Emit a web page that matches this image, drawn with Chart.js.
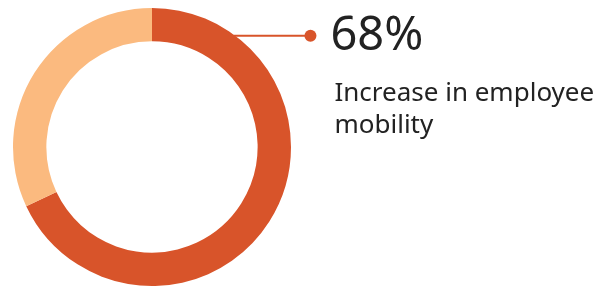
<!DOCTYPE html>
<html>
<head>
<meta charset="utf-8">
<script src="https://cdn.jsdelivr.net/npm/chart.js@4"></script>
<style>
  html, body { margin: 0; padding: 0; background: #fff; }
  #wrap { position: relative; width: 605px; height: 287px; }
</style>
</head>
<body>
<div id="wrap"><canvas id="donut"></canvas></div>
<script>
const labels = ['Increase in employee mobility', 'Other'];
const values = [68, 32];
const colors = ['#D8542A', '#FBBA7F'];
const headline = '68%';
const captionLines = ['Increase in employee', 'mobility'];

// leader line + callout text, anchored on the arc geometry
const callout = {
    id: 'callout',
    afterDraw(chart) {
        const arc = chart.getDatasetMeta(0).data[0];
        const { x: cx, y: cy, outerRadius } = arc.getProps(['x', 'y', 'outerRadius'], true);
        const ctx = chart.ctx;
        const ly = cy - outerRadius * 0.8;
        const lx = cx + Math.sqrt(outerRadius * outerRadius - (ly - cy) * (ly - cy)) - 2;
        const dotX = cx + outerRadius * 1.14;
        ctx.save();
        ctx.strokeStyle = colors[0];
        ctx.fillStyle = colors[0];
        ctx.lineWidth = 2;
        ctx.beginPath();
        ctx.moveTo(lx, ly);
        ctx.lineTo(dotX, ly);
        ctx.stroke();
        ctx.beginPath();
        ctx.arc(dotX, ly, 6, 0, Math.PI * 2);
        ctx.fill();

        ctx.fillStyle = '#222';
        ctx.textBaseline = 'alphabetic';
        ctx.textAlign = 'left';
        ctx.font = "47px 'Noto Sans', sans-serif";
        ctx.fillText(headline, dotX + 20, ly + 14);
        ctx.font = "26px 'Noto Sans', sans-serif";
        captionLines.forEach((t, i) => ctx.fillText(t, dotX + 24, ly + 65 + i * 32));
        ctx.restore();
    }
};

new Chart(document.getElementById('donut'), {
    type: 'doughnut',
    data: {
        labels: labels,
        datasets: [{ data: values, backgroundColor: colors, borderWidth: 0 }]
    },
    options: {
        responsive: true,
        maintainAspectRatio: false,
        animation: false,
        cutout: '76%',
        layout: { padding: { left: 13, top: 8, bottom: 1, right: 314 } },
        plugins: { legend: { display: false }, tooltip: { enabled: false } }
    },
    plugins: [callout]
});
</script>
</body>
</html>
